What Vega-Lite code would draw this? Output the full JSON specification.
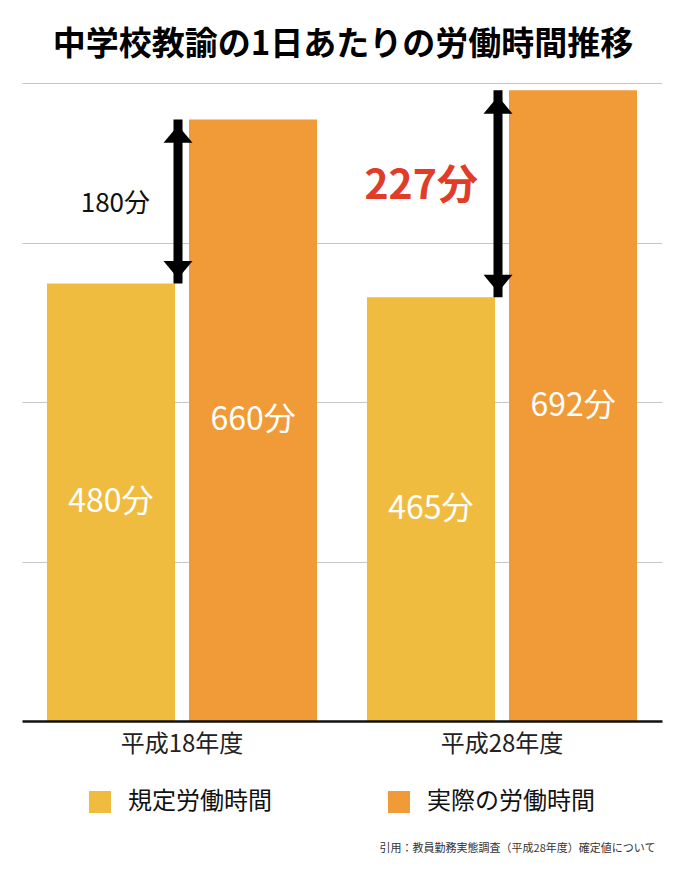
{
  "$schema": "https://vega.github.io/schema/vega-lite/v6.json",
  "width": 640,
  "height": 638,
  "autosize": "none",
  "padding": {"top": 83, "left": 22, "right": 26, "bottom": 161},
  "title": {
    "text": "中学校教諭の1日あたりの労働時間推移",
    "anchor": "middle",
    "frame": "group",
    "fontSize": 33,
    "fontWeight": "bold",
    "color": "#000000",
    "offset": 21,
    "dx": 1
  },
  "config": {
    "font": "Noto Sans CJK JP",
    "view": {"stroke": null}
  },
  "datasets": {
    "hours": [
      {"year": "平成18年度", "series": "規定労働時間", "value": 480, "label": "480分"},
      {"year": "平成18年度", "series": "実際の労働時間", "value": 660, "label": "660分"},
      {"year": "平成28年度", "series": "規定労働時間", "value": 465, "label": "465分"},
      {"year": "平成28年度", "series": "実際の労働時間", "value": 692, "label": "692分"}
    ],
    "gaps": [
      {"year": "平成18年度", "low": 480, "high": 660, "label": "180分"},
      {"year": "平成28年度", "low": 465, "high": 692, "label": "227分"}
    ]
  },
  "layer": [
    {
      "layer": [
        {
          "data": {"name": "hours"},
          "mark": {"type": "bar"},
          "encoding": {
            "x": {
              "field": "year",
              "type": "nominal",
              "sort": null,
              "scale": {"paddingInner": 0.156, "paddingOuter": 0.078},
              "axis": {
                "title": "引用：教員勤務実態調査（平成28年度）確定値について",
                "titleFontSize": 11,
                "titleFontWeight": "normal",
                "titleColor": "#333333",
                "titleAnchor": "end",
                "titleAlign": "right",
                "titleBaseline": "middle",
                "titleX": 633,
                "titleY": 127,
                "labelFontSize": 24,
                "labelColor": "#222222",
                "labelPadding": 11,
                "labelAngle": 0,
                "ticks": false,
                "grid": false,
                "domainColor": "#111111",
                "domainWidth": 2.5,
                "zindex": 1
              }
            },
            "xOffset": {
              "field": "series",
              "type": "nominal",
              "sort": ["規定労働時間", "実際の労働時間"],
              "scale": {"paddingInner": 0.0986, "paddingOuter": 0}
            },
            "y": {
              "field": "value",
              "type": "quantitative",
              "scale": {"domain": [0, 700], "nice": false},
              "axis": {
                "values": [175, 350, 525, 700],
                "grid": true,
                "gridColor": "#c6c6c6",
                "gridWidth": 1,
                "domain": false,
                "ticks": false,
                "labels": false,
                "title": null
              }
            },
            "color": {
              "field": "series",
              "type": "nominal",
              "sort": ["規定労働時間", "実際の労働時間"],
              "scale": {"domain": ["規定労働時間", "実際の労働時間"], "range": ["#EFBC40", "#F09A38"]},
              "legend": {
                "orient": "none",
                "legendX": 66,
                "legendY": 707,
                "direction": "horizontal",
                "title": null,
                "symbolType": "square",
                "symbolSize": 484,
                "symbolStrokeWidth": 0,
                "labelFontSize": 24,
                "labelColor": "#111111",
                "labelOffset": 16,
                "labelLimit": 400,
                "columnPadding": 115,
                "padding": 0
              }
            }
          }
        },
        {
          "data": {"name": "gaps"},
          "mark": {"type": "rule", "strokeWidth": 9, "color": "#000000", "xOffset": -4},
          "encoding": {
            "x": {"field": "year", "type": "nominal", "sort": null},
            "y": {"field": "low", "type": "quantitative", "scale": {"domain": [0, 700], "nice": false}},
            "y2": {"field": "high"}
          }
        },
        {
          "data": {"name": "gaps"},
          "mark": {"type": "point", "shape": "M-1,1.2L0,0L1,1.2Z", "size": 841, "filled": true, "color": "#000000", "opacity": 1, "xOffset": -4, "yOffset": 6},
          "encoding": {
            "x": {"field": "year", "type": "nominal", "sort": null},
            "y": {"field": "high", "type": "quantitative", "scale": {"domain": [0, 700], "nice": false}}
          }
        },
        {
          "data": {"name": "gaps"},
          "mark": {"type": "point", "shape": "M-1,-1.2L0,0L1,-1.2Z", "size": 841, "filled": true, "color": "#000000", "opacity": 1, "xOffset": -4, "yOffset": -5},
          "encoding": {
            "x": {"field": "year", "type": "nominal", "sort": null},
            "y": {"field": "low", "type": "quantitative", "scale": {"domain": [0, 700], "nice": false}}
          }
        },
        {
          "data": {"name": "gaps"},
          "transform": [
            {"filter": "datum.year === '平成18年度'"},
            {"fold": ["low", "high"], "as": ["end", "v"]},
            {"aggregate": [{"op": "mean", "field": "v", "as": "mid"}], "groupby": ["year", "label"]}
          ],
          "mark": {"type": "text", "align": "right", "baseline": "middle", "fontSize": 26, "color": "#111111", "dx": -32, "dy": 3},
          "encoding": {
            "x": {"field": "year", "type": "nominal", "sort": null},
            "y": {"field": "mid", "type": "quantitative", "scale": {"domain": [0, 700], "nice": false}},
            "text": {"field": "label"}
          }
        },
        {
          "data": {"name": "gaps"},
          "transform": [
            {"filter": "datum.year === '平成28年度'"},
            {"fold": ["low", "high"], "as": ["end", "v"]},
            {"aggregate": [{"op": "mean", "field": "v", "as": "mid"}], "groupby": ["year", "label"]}
          ],
          "mark": {"type": "text", "align": "right", "baseline": "middle", "fontSize": 41, "fontWeight": "bold", "color": "#E03C28", "dx": -24, "dy": -7},
          "encoding": {
            "x": {"field": "year", "type": "nominal", "sort": null},
            "y": {"field": "mid", "type": "quantitative", "scale": {"domain": [0, 700], "nice": false}},
            "text": {"field": "label"}
          }
        }
      ]
    },
    {
      "data": {"name": "hours"},
      "mark": {"type": "text", "align": "center", "baseline": "middle", "fontSize": 32, "color": "#ffffff"},
      "encoding": {
        "x": {"field": "year", "type": "nominal", "sort": null},
        "xOffset": {"field": "series", "type": "nominal", "sort": ["規定労働時間", "実際の労働時間"]},
        "y": {"field": "value", "type": "quantitative", "scale": {"domain": [0, 1400], "nice": false}, "axis": null},
        "text": {"field": "label"}
      }
    }
  ],
  "resolve": {"scale": {"y": "independent"}}
}
